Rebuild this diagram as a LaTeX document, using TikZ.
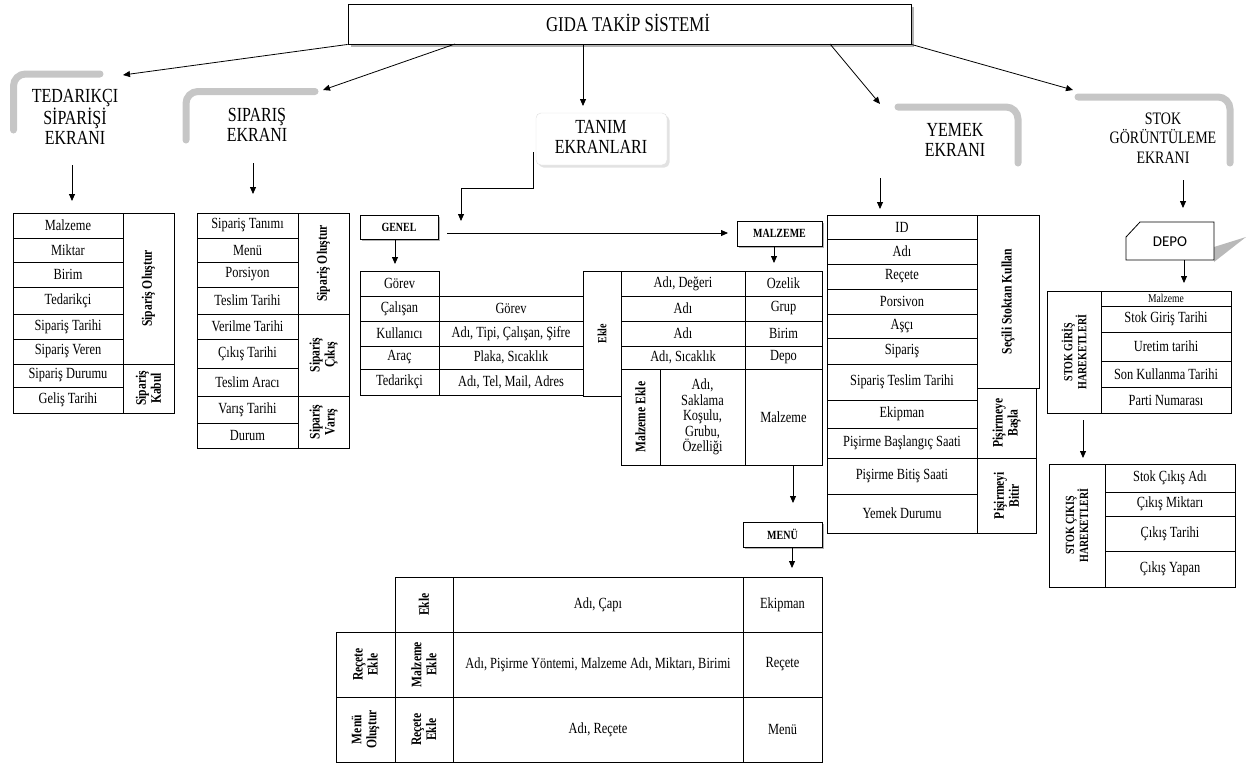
\documentclass[tikz,border=0pt]{standalone}
\usepackage{fontspec}
\setmainfont{Liberation Serif}[FakeStretch=0.8]
\newfontfamily\depofont{Carlito}
\usetikzlibrary{arrows.meta,fit,shadows}
\newcommand\tc[7][]{\node[cellbox,fit={(#3,#4) (#5,#6)}] (#2) {}; \node[ctext,#1] (#2t) at (#2.center) {#7};}
\newcommand\rc[7][]{\node[cellbox,fit={(#3,#4) (#5,#6)}] (#2) {}; \node[rot,#1] (#2t) at (#2.center) {#7};}
\tikzset{
 cellbox/.style={draw, line width=0.8pt, inner sep=0pt},
 ctext/.style={align=center, inner sep=0pt, font=\fontsize{15.5}{16}\selectfont},
 rot/.style={rotate=90, align=center, inner sep=0pt, font=\bfseries\fontsize{14.5}{15}\selectfont},
 arr/.style={-{Triangle[length=7pt,width=6pt]}, line width=0.8pt},
 hdr/.style={align=center, inner sep=0pt, font=\fontsize{20}{20}\selectfont},
 bracket/.style={draw=gray!45, line width=7pt, rounded corners=12pt, line cap=round},
 lblbox/.style={draw, line width=0.8pt, inner sep=0pt, fill=white},
 lbl/.style={inner sep=0pt, font=\bfseries\fontsize{12.5}{13}\selectfont},
 shd/.style={fill=gray!60}
}
\begin{document}
\begin{tikzpicture}[x=1pt,y=-1pt]
\useasboundingbox (0,0) rectangle (1247,764);

% ---------- title ----------
\fill[shd] (351,7) rectangle (914,47);
\node[fit={(348,4) (911,44)}, draw, fill=white, line width=0.9pt, inner sep=0pt] (title) {};
\node[inner sep=0pt, font=\fontsize{21}{21}\selectfont] (titlet) at (628,23) {GIDA TAKİP SİSTEMİ};

% ---------- headers ----------
\draw[bracket] (13.5,130) -- (13.5,74) -- (100,74);
\node[hdr] (tedhdr) at (75,117) {TEDARIKÇI\\SİPARİŞİ\\EKRANI};
\draw[bracket] (186,140) -- (186,91.5) -- (315,91.5);
\node[hdr] (siphdr) at (257,125) {SIPARIŞ\\EKRANI};
\node[fit={(536,113) (667,165)}, draw=gray!25, fill=white, rounded corners=5pt, inner sep=0pt,
      drop shadow={shadow xshift=2.5pt, shadow yshift=-2.5pt, fill=gray!45}] (tanim) {};
\node[hdr] (tanimt) at (601,137) {TANIM\\EKRANLARI};
\draw[bracket] (898,107) -- (1018,107) -- (1018,163);
\node[hdr] (yemhdr) at (955,140) {YEMEK\\EKRANI};
\draw[bracket] (1078,97) -- (1230,97) -- (1230,163);
\node[hdr, font=\fontsize{17.5}{19.5}\selectfont] (stokhdr) at (1163,138) {STOK\\GÖRÜNTÜLEME\\EKRANI};

% ---------- arrows from title ----------
\coordinate (a1e) at (123,75);
\coordinate (a2s) at (455,44); \coordinate (a2e) at (323,90);
\coordinate (a3s) at (583,44); \coordinate (a3e) at (583,106);
\coordinate (a4s) at (830,44); \coordinate (a4e) at (880,104);
\coordinate (a5e) at (1073,90);
\draw[arr] (title.south west) -- (a1e);
\draw[arr] (a2s) -- (a2e);
\draw[arr] (a3s) -- (a3e);
\draw[arr] (a4s) -- (a4e);
\draw[arr] (title.south east) -- (a5e);

% ---------- header arrows ----------
\coordinate (b1s) at (72,165); \coordinate (b1e) at (72,201);
\coordinate (b2s) at (253,163); \coordinate (b2e) at (253,194);
\coordinate (b3s) at (880,178); \coordinate (b3e) at (880,209);
\coordinate (b4s) at (1183,180); \coordinate (b4e) at (1183,208);
\draw[arr] (b1s) -- (b1e);
\draw[arr] (b2s) -- (b2e);
\draw[arr] (b3s) -- (b3e);
\draw[arr] (b4s) -- (b4e);

% ---------- TEDARIKCI table ----------
\tc{t1}{13}{213}{123}{238}{Malzeme}
\tc{t2}{13}{238}{123}{262}{Miktar}
\tc{t3}{13}{262}{123}{287}{Birim}
\tc{t4}{13}{287}{123}{314}{Tedarikçi}
\tc{t5}{13}{314}{123}{339}{Sipariş Tarihi}
\tc{t6}{13}{339}{123}{364}{Sipariş Veren}
\tc{t7}{13}{364}{123}{387}{Sipariş Durumu}
\tc{t8}{13}{387}{123}{413}{Geliş Tarihi}
\rc{tr1}{123}{213}{174}{364}{Sipariş Oluştur}
\rc{tr2}{123}{364}{174}{413}{Sipariş\\Kabul}

% ---------- SIPARIS table ----------
\tc{s1}{197}{213}{298}{238}{Sipariş Tanımı}
\tc{s2}{197}{238}{298}{262}{Menü}
\tc{s3}{197}{262}{298}{287}{Porsiyon}
\tc{s4}{197}{287}{298}{314}{Teslim Tarihi}
\tc{s5}{197}{314}{298}{339}{Verilme Tarihi}
\tc{s6}{197}{339}{298}{368}{Çıkış Tarihi}
\tc{s7}{197}{368}{298}{396}{Teslim Aracı}
\tc{s8}{197}{396}{298}{423}{Varış Tarihi}
\tc{s9}{197}{423}{298}{448}{Durum}
\rc{sr1}{298}{213}{349}{314}{Sipariş Oluştur}
\rc{sr2}{298}{314}{349}{396}{Sipariş\\Çıkış}
\rc{sr3}{298}{396}{349}{448}{Sipariş\\Varış}

% ---------- TANIM elbow, GENEL, MALZEME ----------
\coordinate (e0) at (533,152); \coordinate (e3) at (461,221);
\draw[arr] (e0) -- ++(0,36) -| (e3);
\fill[shd] (362,217) rectangle (440,241);
\node[lblbox, fit={(360,215) (438,239)}] (genel) {};
\node[lbl] (genelt) at (genel.center) {GENEL};
\fill[shd] (739,223) rectangle (824,248);
\node[lblbox, fit={(737,221) (822,246)}] (malz) {};
\node[lbl] (malzt) at (malz.center) {MALZEME};
\coordinate (g1s) at (395,239); \coordinate (g1e) at (395,264);
\draw[arr] (g1s) -- (g1e);
\coordinate (g2s) at (447,233); \coordinate (g2e) at (728,233);
\draw[arr] (g2s) -- (g2e);
\coordinate (m1s) at (774,246); \coordinate (m1e) at (774,263);
\draw[arr] (m1s) -- (m1e);

% ---------- GENEL table ----------
\tc{g1}{360}{271}{439}{296}{Görev}
\tc{g2}{360}{296}{439}{321}{Çalışan}
\tc{g3}{360}{321}{439}{346}{Kullanıcı}
\tc{g4}{360}{346}{439}{369}{Araç}
\tc{g5}{360}{369}{439}{395}{Tedarikçi}
\tc{gm2}{439}{296}{583}{321}{Görev}
\tc{gm3}{439}{321}{583}{346}{Adı, Tipi, Çalışan, Şifre}
\tc{gm4}{439}{346}{583}{369}{Plaka, Sıcaklık}
\tc{gm5}{439}{369}{583}{395}{Adı, Tel, Mail, Adres}
\rc[font=\bfseries\fontsize{12.5}{13}\selectfont]{gek}{583}{271}{621}{396}{Ekle}

% ---------- MALZEME table ----------
\tc{m1}{621}{271}{745}{296}{Adı, Değeri}
\tc{m2}{621}{296}{745}{321}{Adı}
\tc{m3}{621}{321}{745}{346}{Adı}
\tc{m4}{621}{346}{745}{369}{Adı, Sıcaklık}
\tc{mr1}{745}{271}{822}{296}{Ozelik}
\tc{mr2}{745}{296}{822}{321}{Grup}
\tc{mr3}{745}{321}{822}{346}{Birim}
\tc{mr4}{745}{346}{822}{369}{Depo}
\rc{m5a}{621}{369}{660}{465}{Malzeme Ekle}
\tc[font=\fontsize{15.5}{15.5}\selectfont]{m5b}{660}{369}{745}{465}{Adı,\\Saklama\\Koşulu,\\Grubu,\\Özelliği}
\tc{m5c}{745}{369}{822}{465}{Malzeme}

% ---------- MENU ----------
\coordinate (n1s) at (793,465); \coordinate (n1e) at (793,503);
\draw[arr] (n1s) -- (n1e);
\fill[shd] (745,524) rectangle (824,549);
\node[lblbox, fit={(743,522) (822,547)}] (menu) {};
\node[lbl] (menut) at (menu.center) {MENÜ};
\coordinate (n2s) at (792,547); \coordinate (n2e) at (792,568);
\draw[arr] (n2s) -- (n2e);
\rc{u1b}{395}{577}{453}{632}{Ekle}
\tc{u1c}{453}{577}{743}{632}{Adı, Çapı}
\tc{u1d}{743}{577}{822}{632}{Ekipman}
\rc{u2a}{336}{632}{395}{697}{Reçete\\Ekle}
\rc{u2b}{395}{632}{453}{697}{Malzeme\\Ekle}
\tc{u2c}{453}{632}{743}{697}{Adı, Pişirme Yöntemi, Malzeme Adı, Miktarı, Birimi}
\tc{u2d}{743}{632}{822}{697}{Reçete}
\rc{u3a}{336}{697}{395}{762}{Menü\\Oluştur}
\rc{u3b}{395}{697}{453}{762}{Reçete\\Ekle}
\tc{u3c}{453}{697}{743}{762}{Adı, Reçete}
\tc{u3d}{743}{697}{822}{762}{Menü}

% ---------- YEMEK table ----------
\tc{y1}{827}{215}{977}{239}{ID}
\tc{y2}{827}{239}{977}{264}{Adı}
\tc{y3}{827}{264}{977}{289}{Reçete}
\tc{y4}{827}{289}{977}{314}{Porsivon}
\tc{y5}{827}{314}{977}{338}{Aşçı}
\tc{y6}{827}{338}{977}{364}{Sipariş}
\tc{y7}{827}{364}{977}{400}{Sipariş Teslim Tarihi}
\tc{y8}{827}{400}{977}{428}{Ekipman}
\tc{y9}{827}{428}{977}{458}{Pişirme Başlangıç Saati}
\tc{y10}{827}{458}{977}{494}{Pişirme Bitiş Saati}
\tc{y11}{827}{494}{977}{533}{Yemek Durumu}
\rc{yr1}{977}{215}{1039}{388}{Seçili Stoktan Kullan}
\rc{yr2}{977}{388}{1036}{458}{Pişirmeye\\Başla}
\rc{yr3}{977}{458}{1036}{533}{Pişirmeyi\\Bitir}

% ---------- DEPO ----------
\fill[gray!55] (1214,247) -- (1246,237) -- (1214,262) -- cycle;
\draw[line width=0.8pt, fill=white] (1140,222) -- (1214,222) -- (1214,260) -- (1126,260) -- (1126,237) -- cycle;
\node[font=\depofont\fontsize{15}{15}\selectfont, inner sep=0pt] (depo) at (1170,242) {DEPO};
\coordinate (d1s) at (1184,260); \coordinate (d1e) at (1184,283);
\draw[arr] (d1s) -- (d1e);

% ---------- STOK GIRIS ----------
\rc[font=\bfseries\fontsize{12.5}{14}\selectfont]{sgl}{1047}{291}{1101}{413}{STOK GİRİŞ\\HAREKETLERİ}
\tc[font=\fontsize{12}{12}\selectfont]{sg1}{1101}{291}{1231}{306}{Malzeme}
\tc{sg2}{1101}{306}{1231}{332}{Stok Giriş Tarihi}
\tc{sg3}{1101}{332}{1231}{361}{Uretim tarihi}
\tc{sg4}{1101}{361}{1231}{387}{Son Kullanma Tarihi}
\tc{sg5}{1101}{387}{1231}{413}{Parti Numarası}
\coordinate (k1s) at (1083,420); \coordinate (k1e) at (1083,458);
\draw[arr] (k1s) -- (k1e);

% ---------- STOK CIKIS ----------
\rc[font=\bfseries\fontsize{12.5}{14}\selectfont]{scl}{1049}{464}{1105}{587}{STOK ÇIKIŞ\\HAREKETLERİ}
\tc{sc1}{1105}{464}{1235}{492}{Stok Çıkış Adı}
\tc{sc2}{1105}{492}{1235}{516}{Çıkış Miktarı}
\tc{sc3}{1105}{516}{1235}{551}{Çıkış Tarihi}
\tc{sc4}{1105}{551}{1235}{587}{Çıkış Yapan}
\end{tikzpicture}
\end{document}
